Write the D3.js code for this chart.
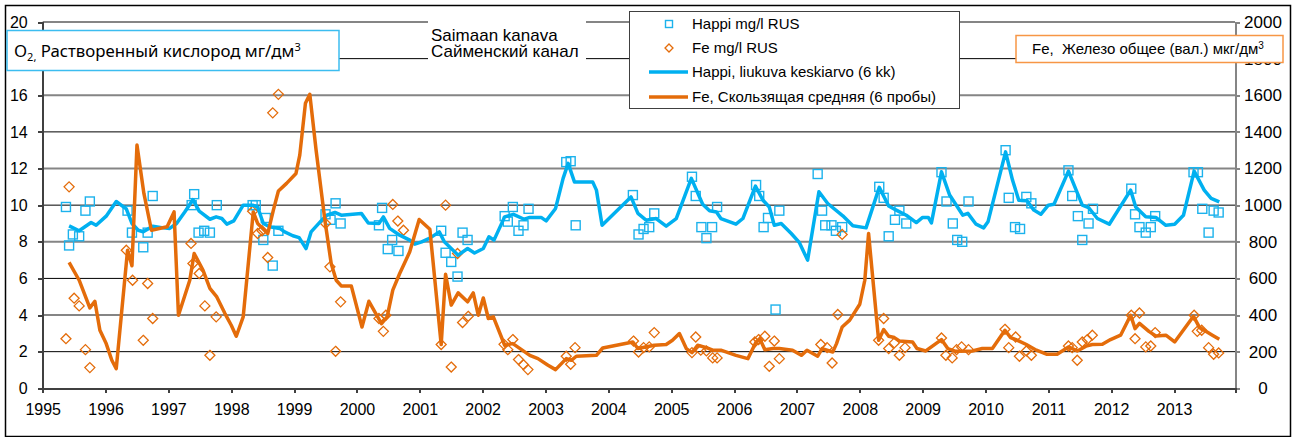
<!DOCTYPE html>
<html lang="ru">
  <head>
    <meta charset="UTF-8" />
    <script src="https://cdnjs.cloudflare.com/ajax/libs/d3/7.8.5/d3.min.js"></script>
    <title>Saimaan kanava</title>
    <style>
      body { margin: 0; background: #fff; }
      text { font-family: "Liberation Sans", Arial, sans-serif; fill: #000; }
      .axis path, .axis line { shape-rendering: crispEdges; }
    </style>
  </head>
  <body>
    <script>
      // O2 samples [year, mg/l]
      const happiPoints = [
        [1995.37, 9.9], [1995.42, 7.8], [1995.48, 8.4], [1995.58, 8.3], [1995.68, 9.7], [1995.75, 10.2],
        [1996.35, 9.7], [1996.42, 8.5], [1996.6, 7.7], [1996.67, 8.5], [1996.75, 10.5],
        [1997.37, 10.0], [1997.41, 10.6], [1997.48, 8.5], [1997.57, 8.6], [1997.66, 8.5], [1997.77, 10.0],
        [1998.34, 10.0], [1998.39, 10.0], [1998.51, 8.1], [1998.55, 9.3], [1998.66, 6.7], [1998.75, 8.6],
        [1999.5, 9.5], [1999.58, 9.2], [1999.66, 10.1], [1999.74, 9.0],
        [2000.35, 8.9], [2000.4, 9.85], [2000.49, 7.6], [2000.56, 8.1], [2000.66, 7.5],
        [2001.34, 8.6], [2001.41, 7.4], [2001.5, 6.9], [2001.6, 6.1], [2001.68, 8.5], [2001.76, 8.1],
        [2002.35, 9.4], [2002.4, 9.1], [2002.48, 9.9], [2002.57, 8.6], [2002.65, 8.9], [2002.73, 9.8],
        [2003.33, 12.35], [2003.4, 12.4], [2003.48, 8.9],
        [2004.39, 10.55], [2004.48, 8.4], [2004.56, 8.7], [2004.65, 8.8], [2004.73, 9.55],
        [2005.33, 11.55], [2005.39, 10.5], [2005.48, 8.8], [2005.56, 8.2], [2005.65, 8.8], [2005.73, 9.9],
        [2006.35, 11.1], [2006.4, 10.5], [2006.47, 8.8], [2006.54, 9.3], [2006.66, 4.3], [2006.72, 9.7],
        [2007.33, 11.7], [2007.4, 9.7], [2007.45, 8.9], [2007.55, 8.9], [2007.62, 8.6], [2007.72, 8.8],
        [2008.31, 11.0], [2008.38, 10.4], [2008.46, 8.3], [2008.56, 9.2], [2008.63, 9.7], [2008.74, 9.0],
        [2009.3, 11.8], [2009.38, 10.2], [2009.48, 9.0], [2009.55, 8.1], [2009.63, 8.0], [2009.73, 10.2],
        [2010.32, 13.0], [2010.37, 10.4], [2010.47, 8.8], [2010.55, 8.7], [2010.65, 10.45], [2010.73, 10.1],
        [2011.32, 11.9], [2011.38, 10.5], [2011.47, 9.4], [2011.54, 8.1], [2011.64, 9.0], [2011.71, 9.8],
        [2012.32, 10.9], [2012.38, 9.5], [2012.45, 8.8], [2012.55, 8.5], [2012.63, 8.8], [2012.7, 9.4],
        [2013.31, 11.8], [2013.38, 11.8], [2013.45, 9.8], [2013.55, 8.5], [2013.63, 9.7], [2013.71, 9.6]
      ];

      // Fe samples [year, ug/dm3]
      const fePoints = [
        [1995.37, 271], [1995.42, 1100], [1995.5, 492], [1995.58, 450], [1995.68, 211], [1995.75, 113],
        [1996.33, 754], [1996.43, 590], [1996.6, 262], [1996.67, 572], [1996.75, 381],
        [1997.36, 791], [1997.39, 681], [1997.49, 627], [1997.58, 450], [1997.66, 180], [1997.76, 390],
        [1998.34, 967], [1998.42, 845], [1998.49, 860], [1998.58, 714], [1998.66, 1504], [1998.75, 1605],
        [1999.5, 900], [1999.57, 663], [1999.66, 202], [1999.74, 472],
        [2000.35, 381], [2000.42, 311], [2000.46, 399], [2000.57, 1004], [2000.65, 913], [2000.74, 863],
        [2001.34, 239], [2001.41, 1000], [2001.5, 116], [2001.6, 736], [2001.68, 359], [2001.77, 393],
        [2002.34, 240], [2002.4, 211], [2002.48, 266], [2002.57, 157], [2002.65, 129], [2002.72, 102],
        [2003.33, 175], [2003.4, 131], [2003.47, 222],
        [2004.4, 258], [2004.48, 198], [2004.56, 222], [2004.65, 226], [2004.73, 304],
        [2005.33, 195], [2005.39, 280], [2005.47, 208], [2005.56, 204], [2005.66, 166], [2005.73, 166],
        [2006.33, 253], [2006.39, 266], [2006.49, 284], [2006.56, 120], [2006.64, 258], [2006.72, 162],
        [2007.38, 239], [2007.48, 222], [2007.56, 138], [2007.65, 403], [2007.72, 840],
        [2008.3, 262], [2008.38, 381], [2008.46, 217], [2008.55, 248], [2008.63, 180], [2008.72, 222],
        [2009.3, 275], [2009.37, 180], [2009.47, 166], [2009.54, 211], [2009.62, 226], [2009.73, 211],
        [2010.31, 322], [2010.37, 222], [2010.48, 280], [2010.54, 175], [2010.65, 204], [2010.73, 180],
        [2011.32, 231], [2011.38, 222], [2011.46, 153], [2011.54, 253], [2011.62, 266], [2011.7, 290],
        [2012.32, 399], [2012.38, 271], [2012.45, 411], [2012.55, 226], [2012.63, 231], [2012.7, 304],
        [2013.32, 399], [2013.37, 311], [2013.44, 317], [2013.55, 222], [2013.63, 186], [2013.71, 193]
      ];

      // O2 moving average (6 kk)
      const happiAvg = [
        [1995.42, 8.87], [1995.58, 8.6], [1995.77, 9.05], [1995.85, 8.9], [1996.01, 9.4], [1996.17, 10.2],
        [1996.33, 9.8], [1996.42, 9.0], [1996.52, 8.63], [1996.6, 8.55], [1996.75, 8.85], [1996.92, 8.76],
        [1997.02, 8.73], [1997.13, 9.0], [1997.26, 9.63], [1997.39, 10.3], [1997.49, 9.67], [1997.66, 9.23],
        [1997.76, 9.36], [1997.85, 9.27], [1997.93, 8.96], [1998.04, 9.14], [1998.19, 10.0], [1998.34, 10.0],
        [1998.42, 9.9], [1998.51, 9.0], [1998.61, 8.82], [1998.77, 8.73], [1998.85, 8.54], [1998.98, 8.33],
        [1999.08, 8.23], [1999.19, 7.63], [1999.27, 8.54], [1999.44, 9.18], [1999.52, 9.45], [1999.65, 9.6],
        [1999.75, 9.45], [2000.07, 9.55], [2000.18, 9.03], [2000.35, 9.0], [2000.42, 9.36], [2000.52, 8.73],
        [2000.68, 8.36], [2000.84, 8.09], [2000.92, 7.87], [2001.03, 8.0], [2001.16, 8.2], [2001.31, 8.54],
        [2001.39, 8.0], [2001.61, 7.27], [2001.76, 7.63], [2001.87, 7.39], [2002.01, 7.63], [2002.1, 8.27],
        [2002.18, 8.09], [2002.35, 9.36], [2002.49, 9.5], [2002.66, 9.23], [2002.75, 9.33], [2002.93, 9.33],
        [2003.01, 9.14], [2003.16, 9.82], [2003.28, 11.46], [2003.36, 12.28], [2003.46, 11.27], [2003.75, 11.27],
        [2003.81, 10.82], [2003.9, 8.9], [2004.36, 10.45], [2004.47, 9.55], [2004.6, 9.18], [2004.76, 9.27],
        [2004.92, 8.85], [2005.08, 9.27], [2005.32, 11.46], [2005.5, 10.05], [2005.61, 9.69], [2005.72, 9.63],
        [2005.79, 9.27], [2006.03, 8.96], [2006.14, 9.27], [2006.34, 11.04], [2006.46, 10.27], [2006.56, 9.9],
        [2006.64, 8.9], [2006.75, 9.0], [2006.91, 8.45], [2007.04, 7.95], [2007.17, 7.0], [2007.35, 10.73],
        [2007.49, 10.09], [2007.73, 9.42], [2007.89, 8.87], [2008.1, 8.76], [2008.31, 10.97], [2008.46, 9.95],
        [2008.58, 9.73], [2008.74, 9.45], [2008.9, 9.05], [2009.0, 9.33], [2009.09, 9.33], [2009.14, 9.03],
        [2009.3, 11.82], [2009.43, 10.55], [2009.64, 9.45], [2009.72, 9.55], [2009.85, 8.96], [2009.97, 8.76],
        [2010.04, 9.09], [2010.32, 12.91], [2010.43, 11.37], [2010.53, 10.27], [2010.66, 10.24], [2010.77, 9.73],
        [2010.88, 9.5], [2011.0, 10.0], [2011.09, 10.05], [2011.32, 11.86], [2011.54, 10.0], [2011.64, 9.87],
        [2011.78, 9.27], [2011.97, 8.96], [2012.31, 10.82], [2012.39, 9.9], [2012.55, 9.36], [2012.71, 9.33],
        [2012.87, 8.9], [2013.01, 8.96], [2013.15, 9.45], [2013.32, 11.86], [2013.48, 10.82], [2013.59, 10.37],
        [2013.72, 10.18]
      ];

      // Fe moving average (6 samples)
      const feAvg = [
        [1995.42, 687], [1995.58, 590], [1995.75, 439], [1995.83, 475], [1995.91, 317], [1996.01, 244],
        [1996.1, 153], [1996.17, 107], [1996.35, 754], [1996.42, 669], [1996.5, 1328], [1996.61, 1064],
        [1996.73, 863], [1996.98, 882], [1997.09, 963], [1997.16, 399], [1997.34, 590], [1997.41, 736],
        [1997.55, 645], [1997.66, 545], [1997.77, 499], [1997.9, 408], [1998.0, 344], [1998.08, 284],
        [1998.19, 390], [1998.35, 963], [1998.42, 900], [1998.58, 845], [1998.67, 973], [1998.75, 1077],
        [1998.88, 1119], [1999.03, 1173], [1999.09, 1273], [1999.18, 1556], [1999.25, 1605], [1999.35, 1300],
        [1999.49, 918], [1999.59, 681], [1999.67, 590], [1999.75, 559], [1999.91, 559], [2000.08, 335],
        [2000.19, 475], [2000.39, 353], [2000.48, 390], [2000.57, 536], [2000.68, 627], [2000.84, 745],
        [2000.99, 922], [2001.16, 868], [2001.34, 239], [2001.41, 623], [2001.5, 454], [2001.61, 521],
        [2001.76, 472], [2001.85, 521], [2001.93, 399], [2002.01, 493], [2002.09, 381], [2002.17, 390],
        [2002.35, 235], [2002.48, 244], [2002.75, 180], [2002.88, 162], [2003.04, 126], [2003.16, 102],
        [2003.33, 162], [2003.41, 153], [2003.49, 175], [2003.81, 180], [2003.91, 220], [2004.39, 253],
        [2004.47, 217], [2004.73, 235], [2004.92, 239], [2005.02, 262], [2005.13, 299], [2005.24, 217],
        [2005.33, 195], [2005.42, 235], [2005.56, 222], [2005.66, 208], [2005.79, 208], [2006.03, 180],
        [2006.22, 162], [2006.35, 253], [2006.41, 271], [2006.49, 211], [2006.62, 217], [2006.72, 217],
        [2006.93, 208], [2007.07, 180], [2007.16, 208], [2007.33, 175], [2007.4, 217], [2007.57, 198],
        [2007.63, 244], [2007.72, 335], [2007.84, 372], [2008.0, 459], [2008.08, 590], [2008.14, 845],
        [2008.22, 553], [2008.3, 262], [2008.38, 321], [2008.46, 284], [2008.55, 277], [2008.63, 258],
        [2008.84, 253], [2008.91, 217], [2009.05, 204], [2009.3, 266], [2009.4, 217], [2009.53, 202],
        [2009.79, 204], [2009.95, 217], [2010.11, 217], [2010.31, 317], [2010.4, 277], [2010.51, 262],
        [2010.65, 239], [2010.81, 208], [2010.97, 186], [2011.14, 186], [2011.32, 226], [2011.46, 204],
        [2011.6, 230], [2011.7, 239], [2011.86, 240], [2011.99, 266], [2012.15, 290], [2012.31, 399],
        [2012.38, 326], [2012.45, 354], [2012.6, 311], [2012.71, 286], [2012.87, 290], [2013.01, 253],
        [2013.31, 393], [2013.4, 335], [2013.48, 317], [2013.61, 290], [2013.72, 268]
      ];

      const yearTicks = d3.range(1995, 2014);
      const leftTicks = d3.range(0, 21, 2);
      const rightTicks = d3.range(0, 2001, 200);

      const legendLabels = [
        "Happi mg/l RUS",
        "Fe mg/l RUS",
        "Happi, liukuva keskiarvo (6 kk)",
        "Fe, Скользящая средняя (6 пробы)"
      ];

      const blue = "#00b0f0";
      const orange = "#e46c0a";

      const width = 1298, height = 437;
      const plotLeft = 42.7, plotRight = 1235, plotTop = 22, plotBottom = 388.3;

      const svg = d3.select("body").append("svg")
        .attr("width", width)
        .attr("height", height);

      const x = d3.scaleLinear().domain([1995, 2013.97]).range([plotLeft, plotRight]);
      const yL = d3.scaleLinear().domain([0, 20]).range([plotBottom, plotTop]);
      const yR = d3.scaleLinear().domain([0, 2000]).range([plotBottom, plotTop]);

      // outer frame
      svg.append("rect")
        .attr("x", 5.5).attr("y", 5.5)
        .attr("width", 1285).attr("height", 431)
        .attr("fill", "#fff")
        .attr("stroke", "#000")
        .attr("stroke-width", 1.5);

      // gridlines
      svg.append("g")
        .selectAll("line")
        .data(leftTicks.filter(function (d) { return d > 0; }))
        .enter()
        .append("line")
        .attr("x1", plotLeft).attr("x2", plotRight)
        .attr("y1", function (d) { return yL(d); })
        .attr("y2", function (d) { return yL(d); })
        .attr("stroke", function (d) { return d % 4 === 0 ? "#858585" : "#000"; })
        .attr("stroke-width", function (d) { return d % 4 === 0 ? 2 : 1; });

      // axes
      const axL = svg.append("g")
        .attr("class", "axis")
        .attr("transform", "translate(" + plotLeft + ",0)")
        .call(d3.axisLeft(yL).tickValues(leftTicks).tickSize(5).tickPadding(10).tickFormat(d3.format("d")));
      axL.select(".domain").attr("stroke", "#404040").attr("stroke-width", 2);
      axL.selectAll("line").attr("stroke", "#404040").attr("stroke-width", 2);
      axL.selectAll("text").style("font-size", "16px");

      const axR = svg.append("g")
        .attr("class", "axis")
        .attr("transform", "translate(" + plotRight + ",0)")
        .call(d3.axisRight(yR).tickValues(rightTicks).tickSize(5).tickFormat(d3.format("d")));
      axR.select(".domain").attr("stroke", "#858585").attr("stroke-width", 2);
      axR.selectAll("line").attr("stroke", "#858585").attr("stroke-width", 2);
      axR.selectAll("text")
        .attr("x", 28)
        .attr("text-anchor", "middle")
        .style("font-size", "17px");

      const axX = svg.append("g")
        .attr("class", "axis")
        .attr("transform", "translate(0," + plotBottom + ")")
        .call(d3.axisBottom(x).tickValues(yearTicks).tickSize(5).tickPadding(10).tickFormat(d3.format("d")));
      axX.select(".domain").attr("stroke", "#404040").attr("stroke-width", 2);
      axX.selectAll("line").attr("stroke", "#404040").attr("stroke-width", 2);
      axX.selectAll("text").style("font-size", "16px");
      svg.selectAll(".axis text").attr("fill", "#000").style("font-family", "'Liberation Sans', Arial, sans-serif");

      // markers
      svg.append("g")
        .selectAll("rect")
        .data(happiPoints)
        .enter()
        .append("rect")
        .attr("x", function (d) { return x(d[0]) - 4.5; })
        .attr("y", function (d) { return yL(d[1]) - 4.5; })
        .attr("width", 9).attr("height", 9)
        .attr("fill", "none")
        .attr("stroke", "#1cb2ec")
        .attr("stroke-width", 1.4);

      const diamond = "M0,-5 L5,0 L0,5 L-5,0 Z";
      svg.append("g")
        .selectAll("path")
        .data(fePoints)
        .enter()
        .append("path")
        .attr("d", diamond)
        .attr("transform", function (d) { return "translate(" + x(d[0]) + "," + yR(d[1]) + ")"; })
        .attr("fill", "none")
        .attr("stroke", orange)
        .attr("stroke-width", 1.3);

      // moving averages
      const lineL = d3.line().x(function (d) { return x(d[0]); }).y(function (d) { return yL(d[1]); });
      const lineR = d3.line().x(function (d) { return x(d[0]); }).y(function (d) { return yR(d[1]); });

      svg.append("path")
        .attr("d", lineL(happiAvg))
        .attr("fill", "none")
        .attr("stroke", blue)
        .attr("stroke-width", 3.5)
        .attr("stroke-linejoin", "round");

      svg.append("path")
        .attr("d", lineR(feAvg))
        .attr("fill", "none")
        .attr("stroke", orange)
        .attr("stroke-width", 3.5)
        .attr("stroke-linejoin", "round");

      // title
      svg.append("rect")
        .attr("x", 428).attr("y", 15)
        .attr("width", 158).attr("height", 45)
        .attr("fill", "#fff");
      svg.append("text")
        .attr("x", 431).attr("y", 40.5)
        .style("font-size", "17px")
        .text("Saimaan kanava");
      svg.append("text")
        .attr("x", 431).attr("y", 57)
        .style("font-size", "17px")
        .text("Сайменский канал");

      // legend
      const lg = svg.append("g");
      lg.append("rect")
        .attr("x", 629.5).attr("y", 11.5)
        .attr("width", 330).attr("height", 97)
        .attr("fill", "#fff")
        .attr("stroke", "#404040")
        .attr("stroke-width", 1);
      const rowY = [24, 48, 72, 97];
      lg.append("rect")
        .attr("x", 665.5).attr("y", rowY[0] - 3.5)
        .attr("width", 7).attr("height", 7)
        .attr("fill", "none").attr("stroke", "#1cb2ec").attr("stroke-width", 1.4);
      lg.append("path")
        .attr("d", "M0,-4 L4,0 L0,4 L-4,0 Z")
        .attr("transform", "translate(669," + rowY[1] + ")")
        .attr("fill", "none").attr("stroke", orange).attr("stroke-width", 1.3);
      lg.append("line")
        .attr("x1", 649).attr("x2", 688)
        .attr("y1", rowY[2]).attr("y2", rowY[2])
        .attr("stroke", blue).attr("stroke-width", 3.5);
      lg.append("line")
        .attr("x1", 649).attr("x2", 688)
        .attr("y1", rowY[3]).attr("y2", rowY[3])
        .attr("stroke", orange).attr("stroke-width", 3.5);
      lg.selectAll("text.lab")
        .data(legendLabels)
        .enter()
        .append("text")
        .attr("class", "lab")
        .attr("x", 692)
        .attr("y", function (d, i) { return rowY[i]; })
        .attr("dy", "0.36em")
        .style("font-size", "15px")
        .text(function (d) { return d; });

      // left axis title box
      svg.append("rect")
        .attr("x", 7).attr("y", 30.5)
        .attr("width", 332).attr("height", 40)
        .attr("fill", "#fff")
        .attr("stroke", "#3cbdf0")
        .attr("stroke-width", 1.5);
      const t1 = svg.append("text")
        .attr("x", 14).attr("y", 57)
        .style("font-family", "'Noto Sans', sans-serif")
        .style("font-size", "16.8px");
      t1.append("tspan").text("O");
      t1.append("tspan").attr("dy", 4).style("font-size", "11px").text("2,");
      t1.append("tspan").attr("dy", -4).text(" Растворенный кислород мг/дм");
      t1.append("tspan").attr("dy", -6).style("font-size", "11px").text("3");

      // right axis title box
      svg.append("rect")
        .attr("x", 1016).attr("y", 35.5)
        .attr("width", 267).attr("height", 27)
        .attr("fill", "#fff")
        .attr("stroke", "#f79646")
        .attr("stroke-width", 1.5);
      const t2 = svg.append("text")
        .attr("x", 1032).attr("y", 54)
        .style("font-size", "15px")
        .style("white-space", "pre");
      t2.append("tspan").text("Fe,  Железо общее (вал.) мкг/дм");
      t2.append("tspan").attr("dy", -5).style("font-size", "10px").text("3");
    </script>
  </body>
</html>
